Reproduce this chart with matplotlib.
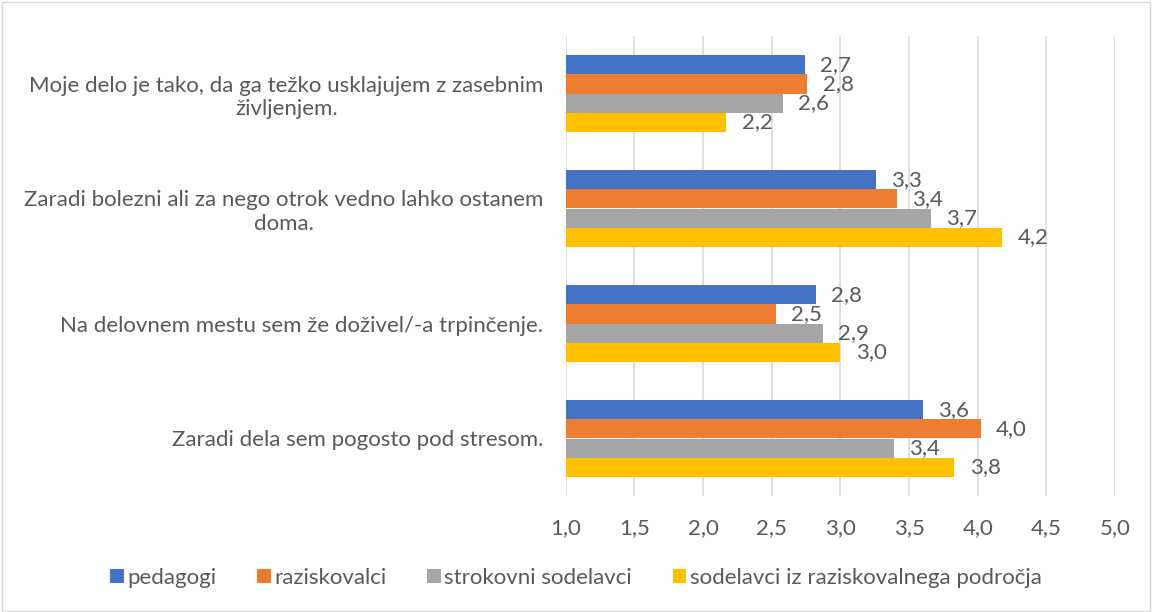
import matplotlib.pyplot as plt
import numpy as np
from matplotlib.patches import Rectangle

# statements, top to bottom as in the chart
statements = [
    "Moje delo je tako, da ga težko usklajujem z zasebnim\nživljenjem.",
    "Zaradi bolezni ali za nego otrok vedno lahko ostanem\ndoma.",
    "Na delovnem mestu sem že doživel/-a trpinčenje.",
    "Zaradi dela sem pogosto pod stresom.",
]
groups = ["pedagogi", "raziskovalci", "strokovni sodelavci",
          "sodelavci iz raziskovalnega področja"]
pedagogi = [2.74, 3.26, 2.82, 3.60]
raziskovalci = [2.76, 3.41, 2.53, 4.02]
strokovni = [2.58, 3.66, 2.87, 3.39]
sodelavci = [2.17, 4.18, 3.00, 3.83]
colors = ["#4472C4", "#ED7D31", "#A5A5A5", "#FFC000"]

plt.rcParams['font.family'] = ['Lato', 'DejaVu Sans']
txt = "#595959"
fs = 16

fig = plt.figure(figsize=(11.52, 6.12), dpi=100)
ax = fig.add_axes([0.491, 1 - 496 / 612, 0.477, 460 / 612])

h = 1 / 6
y = np.arange(len(statements))
series = [pedagogi, raziskovalci, strokovni, sodelavci]
for i, (vals, name, c) in enumerate(zip(series, groups, colors)):
    pos = y + (i - 1.5) * h
    ax.barh(pos, np.array(vals) - 1.0, left=1.0, height=h, color=c,
            label=name, zorder=3)
    for p, v in zip(pos, vals):
        ax.annotate(f"{v:.1f}".replace(".", ","), (v, p), xytext=(11, 0),
                    textcoords="offset points", va="center", ha="left",
                    fontsize=fs, color=txt)

ax.set_xlim(1.0, 5.0)
ax.set_ylim(len(statements) - 0.5, -0.5)
ticks = np.arange(1.0, 5.01, 0.5)
ax.set_xticks(ticks)
ax.set_xticklabels([f"{t:.1f}".replace(".", ",") for t in ticks])
ax.set_yticks(y)
ax.set_yticklabels(statements, multialignment="center")
ax.tick_params(axis="both", length=0, labelsize=fs, labelcolor=txt)
ax.tick_params(axis="x", pad=16)
ax.tick_params(axis="y", pad=16)
ax.grid(axis="x", color="#d9d9d9", linewidth=1.2, zorder=0)
for s in ax.spines.values():
    s.set_visible(False)

fig.legend(loc="center", bbox_to_anchor=(0.5, 1 - 578 / 612), ncol=4,
           frameon=False, fontsize=fs, labelcolor=txt,
           handlelength=0.6, handleheight=0.6, handletextpad=0.15,
           columnspacing=1.85)

fig.patches.append(Rectangle((0.002, 0.002), 0.996, 0.994,
                             transform=fig.transFigure, fill=False,
                             edgecolor="#d9d9d9", linewidth=1))

fig.savefig("out.png", dpi=100)
